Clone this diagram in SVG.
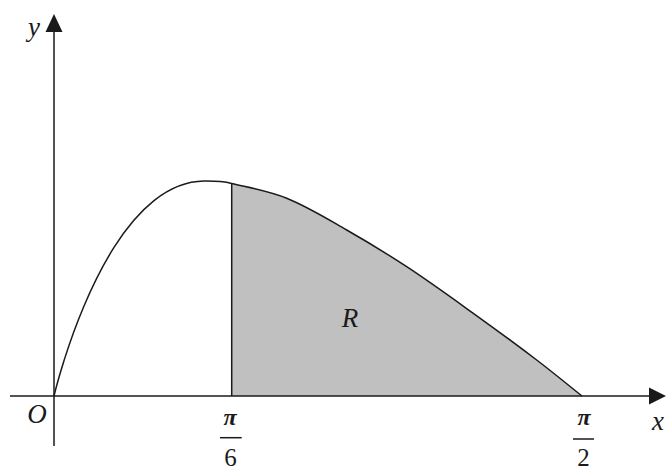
<svg xmlns="http://www.w3.org/2000/svg" width="666" height="471" viewBox="0 0 666 471">
<style>
.ln{fill:none;stroke:#1a1a1a;stroke-width:1.5}
text{fill:#1a1a1a}
</style>
<rect width="666" height="471" fill="#ffffff"/>
<g id="region-R">
<path d="M231.7,183.5 C250.3,187.9 269.09,191.16 286.7,198.3 C307.65,206.8 327.06,218.81 346.7,230 C367.03,241.58 387.14,253.83 406.7,266.7 C429.36,281.6 451.28,297.5 473.3,313.3 C494.59,328.57 515.84,344.15 536.7,360 C552.06,371.68 566.89,384 582,396 L231.7,396 Z" fill="#c0c0c0"/>
<text x="350" y="327" font-family="'Liberation Serif', serif" font-style="italic" font-size="27" text-anchor="middle">R</text>
</g>
<g id="axes">
<line class="ln" x1="10" y1="396" x2="652" y2="396"/>
<path d="M666,396 L649,387.5 L649,404.5 Z" fill="#1a1a1a"/>
<line class="ln" x1="54" y1="446" x2="54" y2="30"/>
<path d="M54,14 L45.5,32 L62.5,32 Z" fill="#1a1a1a"/>
</g>
<g id="curve">
<path class="ln" d="M54,396 C57.33,381.77 60.67,371.2 64,360.63 C70.67,339.49 77.33,321.74 84,305.97 C94,282.31 104,263.23 114,247.45 C127.33,226.41 140.67,211.27 154,200.68 C170.67,187.45 187.33,181.33 204,181.11 C213.23,181 222.47,181.19 231.7,183.5 C250.3,187.9 269.09,191.16 286.7,198.3 C307.65,206.8 327.06,218.81 346.7,230 C367.03,241.58 387.14,253.83 406.7,266.7 C429.36,281.6 451.28,297.5 473.3,313.3 C494.59,328.57 515.84,344.15 536.7,360 C552.06,371.68 566.89,384 582,396"/>
<line class="ln" x1="231.7" y1="183.5" x2="231.7" y2="396"/>
</g>
<g id="labels">
<text x="34" y="36" font-family="'Liberation Serif', serif" font-style="italic" font-size="27" text-anchor="middle">y</text>
<text x="37" y="423" font-family="'Liberation Serif', serif" font-style="italic" font-size="27" text-anchor="middle">O</text>
<text x="658" y="430" font-family="'Liberation Serif', serif" font-style="italic" font-size="27" text-anchor="middle">x</text>
<text x="230" y="425" font-family="'Liberation Serif', serif" font-style="italic" font-size="24" font-weight="bold" text-anchor="middle">π</text>
<line class="ln" x1="220" y1="437.7" x2="241.7" y2="437.7"/>
<text x="230.5" y="466" font-family="'Liberation Serif', serif" font-size="25" text-anchor="middle">6</text>
<text x="584" y="425" font-family="'Liberation Serif', serif" font-style="italic" font-size="24" font-weight="bold" text-anchor="middle">π</text>
<line class="ln" x1="573" y1="439" x2="594" y2="439"/>
<text x="583.5" y="466" font-family="'Liberation Serif', serif" font-size="25" text-anchor="middle">2</text>
</g>
</svg>
